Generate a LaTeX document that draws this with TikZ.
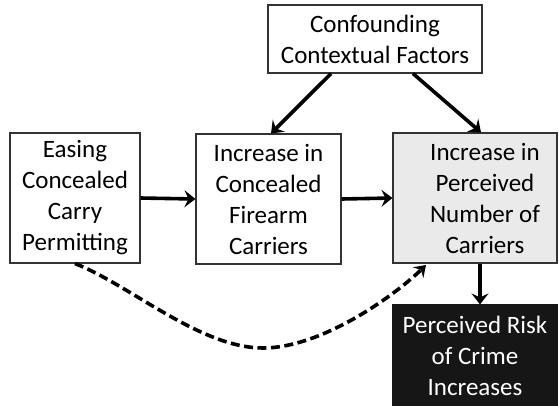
\documentclass[tikz,border=0pt]{standalone}
\usepackage{fontspec}
\setmainfont{Carlito}
\usetikzlibrary{arrows.meta}
\definecolor{lightbox}{RGB}{234,234,234}
\definecolor{darkbox}{RGB}{22,22,22}
\tikzset{
  box/.style={draw=black!80, line width=1.1pt, inner sep=0pt, align=center, font=\fontsize{25}{31}\selectfont},
  txt/.style={inner sep=0pt, align=center, font=\fontsize{25}{31}\selectfont},
  flow/.style={line width=3.6pt, -{Stealth[length=11pt, width=17pt, inset=4pt]}},
  dashflow/.style={line width=3.6pt, dash pattern=on 9pt off 4.5pt, -{Stealth[length=11pt, width=15pt, inset=4pt]}},
}
\begin{document}
\begin{tikzpicture}[x=1pt, y=-1pt]
\useasboundingbox (0,0) rectangle (559,405);
\begin{scope}
\clip (0,0) rectangle (559,405);
\node[box, minimum width=214pt, minimum height=68pt] (conf) at (375,39) {Confounding\\Contextual Factors};
\node[box, minimum width=130pt, minimum height=130pt] (easing) at (75,198) {Easing\\Concealed\\Carry\\Permitting};
\node[box, minimum width=145pt, minimum height=130pt] (incr) at (268.5,199) {Increase in\\Concealed\\Firearm\\Carriers};
\node[box, fill=lightbox, minimum width=164pt, minimum height=130pt] (perc) at (475,198) {};
\node[txt] (perctext) at ([xshift=10pt]perc.center) {Increase in\\Perceived\\Number of\\Carriers};
\node[box, draw=darkbox, fill=darkbox, text=white, minimum width=164pt, minimum height=102pt] (risk) at (475,356) {Perceived Risk\\of Crime\\Increases};
\end{scope}
\coordinate (low) at (263,348);
\coordinate (tip) at (426,265);
\draw[flow] (easing.east) -- (incr.west);
\draw[flow] (incr.east) -- (perc.west);
\draw[flow] (conf.south -| 331,0) -- (incr.north -| 271,0);
\draw[flow] (conf.south -| 413,0) -- (perc.north -| 481,0);
\draw[flow] (perc.south -| 480,0) -- (risk.north -| 480,0);
\draw[dashflow] (easing.south) .. controls (130,285) and (200,348) .. (low) .. controls (320,348) and (392,298) .. (tip);
\end{tikzpicture}
\end{document}
